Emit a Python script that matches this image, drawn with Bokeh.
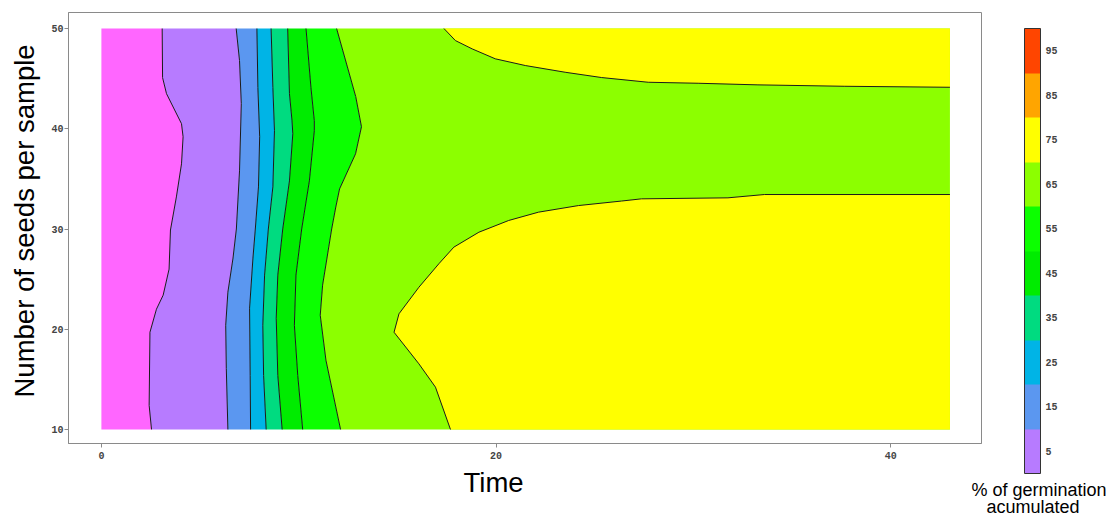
from bokeh.plotting import figure
from bokeh.models import Range1d, FixedTicker, ColorBar, LinearColorMapper, Title
from bokeh.embed import file_html
from bokeh.resources import INLINE

# ---------------- data ----------------
time_min, time_max = 0, 43
seeds_min, seeds_max = 10, 50
time_ticks = [0, 20, 40]
seeds_ticks = [10, 20, 30, 40, 50]

legend_ticks = [5, 15, 25, 35, 45, 55, 65, 75, 85, 95]
palette = ["#B77BFF", "#5B97F0", "#00B4E6", "#00DB80", "#00EC00",
           "#0CFF00", "#8CFF00", "#FFFF00", "#FFA500", "#FF4500"]
below_color = "#FF66FF"

# contour lines (time, seeds per sample), ordered from 10 to 50 seeds
c0_time = [2.54, 2.42, 2.46, 2.79, 3.13, 3.43, 3.50, 3.80, 4.06, 4.14, 4.06, 3.30, 3.10, 3.08]
c0_seeds = [10, 12.4, 19.7, 22.0, 23.4, 26.0, 29.9, 33.2, 36.5, 39.2, 40.5, 43.5, 45.1, 50]

c10_time = [6.41, 6.33, 6.30, 6.41, 6.67, 6.84, 7.00, 7.09, 7.00, 6.83]
c10_seeds = [10, 16.1, 20.4, 23.7, 27.1, 30.0, 35.8, 42.5, 46.8, 50]

c20_time = [7.56, 7.54, 7.51, 7.68, 7.80, 7.96, 8.02, 7.93, 7.88]
c20_seeds = [10, 15.4, 22.1, 27.1, 30.0, 34.2, 39.2, 44.1, 50]

c30_time = [8.35, 8.22, 8.18, 8.27, 8.46, 8.69, 8.77, 8.69, 8.60]
c30_seeds = [10, 15.4, 20.4, 25.4, 30.0, 34.2, 39.8, 44.1, 50]

c40_time = [9.16, 8.94, 8.86, 8.94, 9.19, 9.53, 9.70, 9.66, 9.53, 9.44]
c40_seeds = [10, 15.4, 21.1, 25.4, 30.0, 34.8, 39.5, 40.8, 43.5, 50]

c50_time = [10.20, 9.95, 9.78, 9.86, 10.15, 10.54, 10.79, 10.79, 10.62, 10.37]
c50_seeds = [10, 15.4, 20.4, 25.4, 30.0, 34.8, 39.8, 40.8, 44.1, 50]

c60_time = [12.12, 11.38, 11.09, 11.21, 11.67, 11.88, 12.07, 12.88, 13.18, 12.89, 11.92]
c60_seeds = [10, 16.9, 21.4, 24.4, 30.0, 32.2, 34.0, 37.5, 40.2, 43.2, 50]

c70_upper_time = [17.36, 17.94, 18.79, 19.96, 21.48, 23.50, 25.35, 27.71, 30.24, 33.27, 37.64, 43]
c70_upper_seeds = [50, 48.8, 47.97, 46.98, 46.31, 45.64, 45.11, 44.64, 44.54, 44.38, 44.24, 44.14]

c70_lower_time = [17.69, 16.93, 16.09, 14.83, 15.08, 16.09, 17.10, 17.86, 19.13, 20.64,
                  22.15, 24.18, 26.36, 27.37, 31.75, 33.60, 43]
c70_lower_seeds = [10, 14.22, 16.55, 19.70, 21.54, 24.19, 26.53, 28.19, 29.68, 30.85,
                   31.68, 32.34, 32.79, 33.01, 33.11, 33.44, 33.44]

x_title = "Time"
y_title = "Number of seeds per sample"
legend_title_lines = ["% of germination", "acumulated"]

# ---------------- build filled regions ----------------
lines = [(c0_time, c0_seeds), (c10_time, c10_seeds), (c20_time, c20_seeds),
         (c30_time, c30_seeds), (c40_time, c40_seeds), (c50_time, c50_seeds),
         (c60_time, c60_seeds)]

band_xs, band_ys, band_colors = [], [], []
band_xs.append([time_min, time_min] + c0_time[::-1])
band_ys.append([seeds_min, seeds_max] + c0_seeds[::-1])
band_colors.append(below_color)
for i in range(len(lines) - 1):
    (ax_, ay_), (bx_, by_) = lines[i], lines[i + 1]
    band_xs.append(list(ax_) + list(bx_)[::-1])
    band_ys.append(list(ay_) + list(by_)[::-1])
    band_colors.append(palette[i])
band_xs.append(list(c60_time) + [time_max, time_max])
band_ys.append(list(c60_seeds) + [seeds_max, seeds_min])
band_colors.append(palette[6])
band_xs.append(list(c70_upper_time) + [time_max])
band_ys.append(list(c70_upper_seeds) + [seeds_max])
band_colors.append(palette[7])
band_xs.append(list(c70_lower_time) + [time_max])
band_ys.append(list(c70_lower_seeds) + [seeds_min])
band_colors.append(palette[7])

line_xs = [l[0] for l in lines] + [c70_upper_time, c70_lower_time]
line_ys = [l[1] for l in lines] + [c70_upper_seeds, c70_lower_seeds]

# ---------------- figure ----------------
p = figure(width=1109, height=516, output_backend="svg", toolbar_location=None,
           x_range=Range1d(-1.667, 44.6), y_range=Range1d(8.6, 51.6),
           min_border_left=65, min_border_right=128, min_border_top=12, min_border_bottom=73)
p.background_fill_color = "white"
p.border_fill_color = "white"
p.outline_line_color = "#8a8a8a"
p.outline_line_width = 1
p.xgrid.grid_line_color = None
p.ygrid.grid_line_color = None

p.patches(xs=band_xs, ys=band_ys, fill_color=band_colors, line_color=None)
p.multi_line(xs=line_xs, ys=line_ys, line_color="#1a1a1a", line_width=1)

tick_font = "Liberation Mono"
for ax in (p.xaxis[0], p.yaxis[0]):
    ax.axis_line_color = "#8a8a8a"
    ax.major_tick_line_color = "#8a8a8a"
    ax.minor_tick_line_color = None
    ax.major_tick_in = 0
    ax.major_tick_out = 4
    ax.major_label_text_font = tick_font
    ax.major_label_text_font_style = "bold"
    ax.major_label_text_font_size = "10px"
    ax.major_label_text_color = "#444444"
p.xaxis[0].ticker = FixedTicker(ticks=time_ticks)
p.yaxis[0].ticker = FixedTicker(ticks=seeds_ticks)
p.xaxis[0].major_label_standoff = 4
p.yaxis[0].major_label_standoff = 1

title_font = "Liberation Sans"
p.add_layout(Title(text=x_title, align="left", offset=395, vertical_align="top",
                   standoff=10, text_font=title_font, text_font_size="27.5px",
                   text_font_style="normal", text_color="black"), "below")
p.add_layout(Title(text=y_title, align="left", offset=46, vertical_align="middle",
                   standoff=15, text_font=title_font, text_font_size="27.5px",
                   text_font_style="normal", text_color="black"), "left")

mapper = LinearColorMapper(palette=palette, low=0, high=100)
cb = ColorBar(color_mapper=mapper, ticker=FixedTicker(ticks=legend_ticks),
              location=(956, -30), width=16, height=445, padding=0, margin=0,
              label_standoff=5, major_tick_line_color=None, minor_tick_line_color=None,
              bar_line_color="#333333", bar_line_width=1,
              border_line_color=None, background_fill_color=None,
              major_label_text_font=tick_font, major_label_text_font_style="bold",
              major_label_text_font_size="10px", major_label_text_color="#444444")
p.add_layout(cb)

# legend title (two lines under the colour bar)
for txt, lx, ly in [(legend_title_lines[0], 903, -57), (legend_title_lines[1], 918, -74)]:
    holder = ColorBar(color_mapper=LinearColorMapper(palette=["#FFFFFF"], low=0, high=1),
                      orientation="horizontal",
                      ticker=FixedTicker(ticks=[]), location=(lx, ly), width=1, height=1,
                      padding=0, margin=0, title=txt, title_standoff=0,
                      label_standoff=0, major_tick_in=0, major_tick_out=0,
                      title_text_font=title_font, title_text_font_size="18px",
                      title_text_font_style="normal", title_text_color="black",
                      bar_line_color=None, border_line_color=None,
                      background_fill_color=None, major_tick_line_color=None,
                      minor_tick_line_color=None, major_label_text_alpha=0)
    p.add_layout(holder)

open("out.html", "w").write(file_html(p, INLINE))
